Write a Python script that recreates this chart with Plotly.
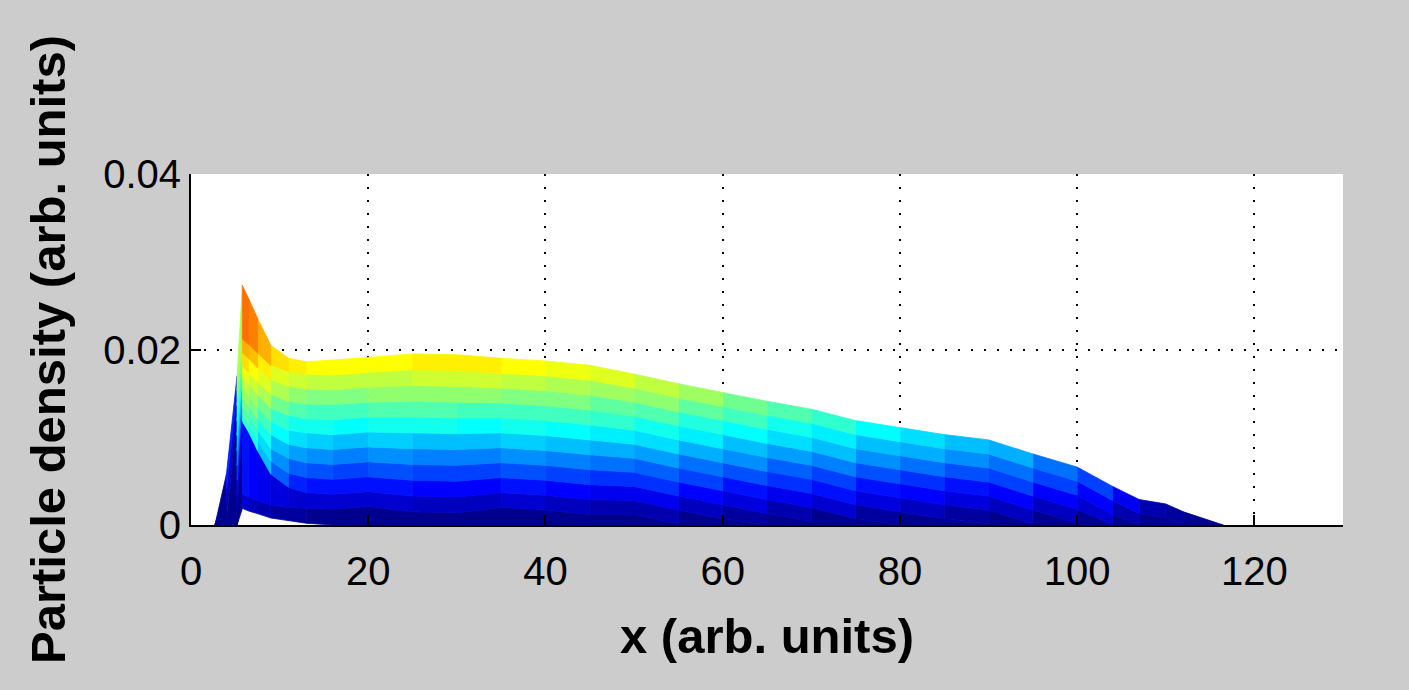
import plotly.graph_objects as go

# ---- data ----
# x positions of the profile samples (arb. units)
x_pos = [2.7, 4.0, 5.2, 5.8, 6.5, 7.5, 9, 11, 13, 16, 20, 25, 30, 35, 40, 45,
         50, 55, 60, 65, 70, 75, 80, 85, 90, 95, 100, 104, 107, 110, 112, 116.5]

# particle density profiles (arb. units), earliest (bottom) to latest (top)
density_t00 = [0, 0, 0, 0.0019, 0.0016, 0.0013, 0.0008, 0.0005, 0.0002, 0, 0, 0, 0, 0, 0, 0,
               0, 0, 0, 0, 0, 0, 0, 0, 0, 0, 0, 0, 0, 0, 0, 0]
density_t01 = [0, 0, 0, 0.0035, 0.0032, 0.0028, 0.0023, 0.0020, 0.0019, 0.0018, 0.0021, 0.0015, 0.0014, 0.0020, 0.0017, 0.0012,
               0.0012, 0.0001, 0, 0, 0, 0, 0, 0, 0, 0, 0, 0, 0, 0, 0, 0]
density_t02 = [0, 0, 0.0017, 0.0118, 0.0106, 0.0085, 0.0058, 0.0043, 0.0037, 0.0035, 0.0038, 0.0033, 0.0032, 0.0037, 0.0034, 0.0029,
               0.0028, 0.0017, 0.0007, 0, 0, 0, 0, 0, 0, 0, 0, 0, 0, 0, 0, 0]
density_t03 = [0, 0, 0.0034, 0.0126, 0.0115, 0.0096, 0.0073, 0.0059, 0.0054, 0.0052, 0.0055, 0.0051, 0.0050, 0.0054, 0.0051, 0.0046,
               0.0044, 0.0033, 0.0023, 0.0013, 0.0004, 0, 0, 0, 0, 0, 0, 0, 0, 0, 0, 0]
density_t04 = [0, 0, 0.0051, 0.0135, 0.0125, 0.0109, 0.0087, 0.0076, 0.0071, 0.0069, 0.0072, 0.0069, 0.0068, 0.0071, 0.0068, 0.0063,
               0.0060, 0.0049, 0.0039, 0.0029, 0.0020, 0.0007, 0, 0, 0, 0, 0, 0, 0, 0, 0, 0]
density_t05 = [0, 0, 0.0068, 0.0145, 0.0136, 0.0121, 0.0103, 0.0092, 0.0088, 0.0086, 0.0089, 0.0087, 0.0086, 0.0088, 0.0085, 0.0080,
               0.0076, 0.0065, 0.0055, 0.0045, 0.0036, 0.0023, 0.0015, 0.0007, 0.0001, 0, 0, 0, 0, 0, 0, 0]
density_t06 = [0, 0, 0.0085, 0.0156, 0.0148, 0.0135, 0.0118, 0.0108, 0.0105, 0.0103, 0.0106, 0.0105, 0.0104, 0.0105, 0.0102, 0.0097,
               0.0092, 0.0081, 0.0071, 0.0061, 0.0052, 0.0039, 0.0031, 0.0023, 0.0017, 0.0001, 0, 0, 0, 0, 0, 0]
density_t07 = [0, 0, 0.0102, 0.0168, 0.0161, 0.0149, 0.0133, 0.0125, 0.0121, 0.0120, 0.0123, 0.0123, 0.0122, 0.0122, 0.0119, 0.0114,
               0.0108, 0.0097, 0.0087, 0.0077, 0.0068, 0.0055, 0.0047, 0.0039, 0.0033, 0.0017, 0.0002, 0, 0, 0, 0, 0]
density_t08 = [0, 0.0007, 0.0119, 0.0181, 0.0174, 0.0163, 0.0149, 0.0141, 0.0138, 0.0137, 0.0140, 0.0141, 0.0140, 0.0139, 0.0136, 0.0131,
               0.0124, 0.0113, 0.0103, 0.0093, 0.0084, 0.0071, 0.0063, 0.0055, 0.0049, 0.0033, 0.0018, 0, 0, 0, 0, 0]
density_t09 = [0, 0.0024, 0.0136, 0.0196, 0.0190, 0.0179, 0.0166, 0.0158, 0.0155, 0.0154, 0.0157, 0.0159, 0.0158, 0.0156, 0.0153, 0.0148,
               0.0140, 0.0129, 0.0119, 0.0109, 0.0100, 0.0087, 0.0079, 0.0071, 0.0065, 0.0049, 0.0034, 0.0012, 0, 0, 0, 0]
density_t10 = [0, 0.0041, 0.0153, 0.0212, 0.0206, 0.0196, 0.0182, 0.0175, 0.0172, 0.0171, 0.0174, 0.0177, 0.0176, 0.0173, 0.0170, 0.0165,
               0.0156, 0.0145, 0.0135, 0.0125, 0.0116, 0.0103, 0.0095, 0.0087, 0.0081, 0.0065, 0.0050, 0.0028, 0.0013, 0.0008, 0, 0]
density_t11 = [0, 0.0058, 0.0170, 0.0273, 0.0258, 0.0236, 0.0205, 0.0190, 0.0186, 0.0188, 0.0191, 0.0195, 0.0194, 0.0190, 0.0187, 0.0182,
               0.0172, 0.0161, 0.0151, 0.0141, 0.0132, 0.0119, 0.0111, 0.0103, 0.0097, 0.0081, 0.0066, 0.0044, 0.0029, 0.0024, 0.0015, 0]

x_ticks = [0, 20, 40, 60, 80, 100, 120]
y_ticks = [0, 0.02, 0.04]
y_tick_labels = ["0", "0.02", "0.04"]

profiles = [density_t00, density_t01, density_t02, density_t03, density_t04, density_t05,
            density_t06, density_t07, density_t08, density_t09, density_t10, density_t11]

# ---- MATLAB-style jet(64) colormap ----
def jet(m=64):
    n = m // 4
    u = [i / n for i in range(1, n + 1)] + [1.0] * (n - 1) + [i / n for i in range(n, 0, -1)]
    g0 = (n + 1) // 2 - (1 if m % 4 == 1 else 0)
    J = [[0.0, 0.0, 0.0] for _ in range(m)]
    for i, ui in enumerate(u):
        g = g0 + i + 1
        r = g + n
        b = g - n
        if 1 <= g <= m:
            J[g - 1][1] = ui
        if 1 <= r <= m:
            J[r - 1][0] = ui
        if 1 <= b <= m:
            J[b - 1][2] = ui
    return ["rgb(%d,%d,%d)" % tuple(round(255 * c) for c in row) for row in J]

CMAP = jet(64)
CMAX = 0.028

def cindex(v):
    return max(0, min(63, int(v / CMAX * 64)))

# faces of the (side-viewed) surface: band between consecutive profiles,
# flat-coloured by the lower profile at the left vertex
groups = {}
for k in range(1, len(profiles)):
    lo, up = profiles[k - 1], profiles[k]
    for j in range(len(x_pos) - 1):
        if up[j] == lo[j] and up[j + 1] == lo[j + 1]:
            continue
        ci = cindex(lo[j])
        gx, gy = groups.setdefault(ci, ([], []))
        gx += [x_pos[j], x_pos[j + 1], x_pos[j + 1], x_pos[j], x_pos[j], None]
        gy += [lo[j], lo[j + 1], up[j + 1], up[j], lo[j], None]

fig = go.Figure()
for ci in sorted(groups):
    gx, gy = groups[ci]
    fig.add_trace(go.Scatter(
        x=gx, y=gy, mode="lines", fill="toself",
        fillcolor=CMAP[ci], line=dict(color=CMAP[ci], width=0.8),
        hoverinfo="skip", showlegend=False))

FONT = "Liberation Sans, Arial, Helvetica, sans-serif"
axis_common = dict(
    showline=True, linecolor="black", linewidth=2,
    ticks="inside", ticklen=10, tickwidth=1.5, tickcolor="black",
    showgrid=True, gridcolor="black", gridwidth=1.8, griddash="2px,11px",
    zeroline=False, mirror=False,
    tickfont=dict(family=FONT, size=40, color="black"),
)

fig.update_layout(
    width=1409, height=690,
    paper_bgcolor="#cccccc", plot_bgcolor="white",
    margin=dict(l=191, r=66, t=174, b=165),
    font=dict(family=FONT, color="black"),
    xaxis=dict(range=[0, 130], tickvals=x_ticks, ticklabelstandoff=10, **axis_common,
               title=dict(text="<b>x (arb. units)</b>", font=dict(family=FONT, size=49), standoff=27)),
    yaxis=dict(range=[0, 0.04], tickvals=y_ticks, ticktext=y_tick_labels, **axis_common,
               title=dict(text="<b>Particle density (arb. units)</b>", font=dict(family=FONT, size=49), standoff=22)),
)

fig.write_html("out.html", config={"displayModeBar": False},
               post_script="document.body.style.margin='0px';")
